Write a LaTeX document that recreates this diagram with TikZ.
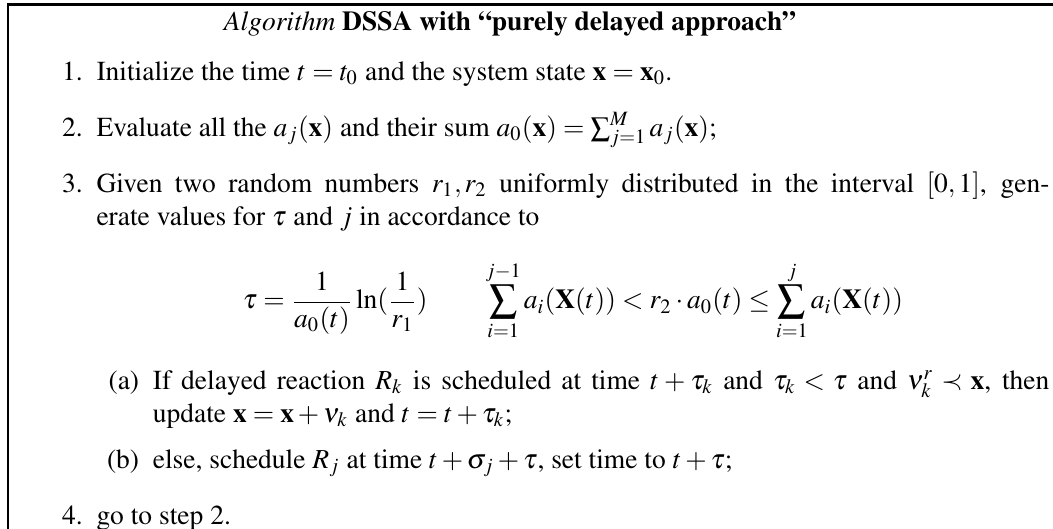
\documentclass[tikz,border=0pt]{standalone}
\usepackage[T1]{fontenc}
\usepackage{mathptmx}
\usepackage{tikz}
\setlength{\leftmarginii}{20.5pt}

\begin{document}
\begin{tikzpicture}[x=1pt, y=1pt]
    \useasboundingbox (0,0) rectangle (383,-192.4);
    \draw[line width=1.1pt] (2.5,-1.7) -- (383,-1.7);
    \draw[line width=0.8pt] (2.9,-1.2) -- (2.9,-192.4);
    \node[anchor=base] (title) at (185.5,-11) {\textit{Algorithm} \textbf{DSSA with ``purely delayed approach''}};
    \node[anchor=base west, inner sep=0pt] (steps) at (9.9,-29.2) {
        \begin{minipage}[t]{371.6pt}
        \begin{enumerate}
        \setlength{\itemsep}{4.4pt}\setlength{\parsep}{0pt}
        \item Initialize the time $t=t_0$ and the system state $\mathbf{x}=\mathbf{x}_0$.
        \item Evaluate all the $a_j(\mathbf{x})$ and their sum $a_0(\mathbf{x})=\sum_{j=1}^{M}a_j(\mathbf{x})$;
        \item Given two random numbers $r_1,r_2$ uniformly distributed in the interval $[0,1]$, gen-\linebreak erate values for $\tau$ and $j$ in accordance to
            \setlength{\abovedisplayskip}{10pt}\setlength{\belowdisplayskip}{10pt}
            \[
            \tau=\frac{1}{a_0(t)}\ln(\frac{1}{r_1})\qquad\sum_{i=1}^{j-1}a_i(\mathbf{X}(t))<r_2\cdot a_0(t)\leq\sum_{i=1}^{j}a_i(\mathbf{X}(t))
            \]
            \begin{enumerate}
            \setlength{\itemsep}{2.8pt}\setlength{\parsep}{0pt}
            \item If delayed reaction $R_k$ is scheduled at time $t+\tau_k$ and $\tau_k<\tau$ and $\nu_k^r\prec\mathbf{x}$, then\linebreak update $\mathbf{x}=\mathbf{x}+\nu_k$ and $t=t+\tau_k$;
            \item else, schedule $R_j$ at time $t+\sigma_j+\tau$, set time to $t+\tau$;
            \end{enumerate}
        \item go to step 2.
        \end{enumerate}
        \end{minipage}
    };
\end{tikzpicture}
\end{document}
